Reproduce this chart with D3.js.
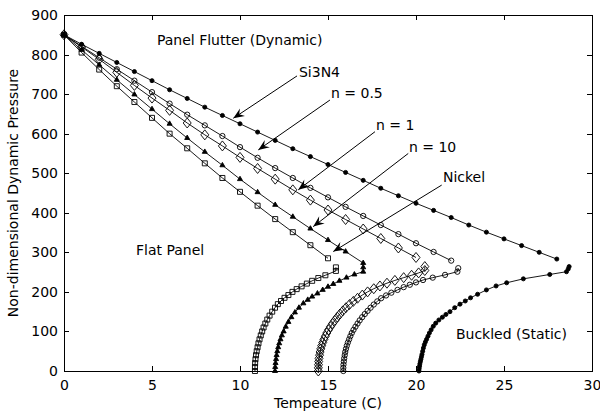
<!DOCTYPE html>
<html>
<head>
<meta charset="utf-8">
<script src="https://cdn.jsdelivr.net/npm/d3@7"></script>
<style>
  body { margin: 0; background: #fff; }
  svg text { font-family: "DejaVu Sans", sans-serif; font-size: 14px; fill: #000; }
</style>
</head>
<body>
<div id="container"></div>
<script>
// values (temperature, pressure)
// flutter branches, one point per degree
const si3n4FlutterT = [0,1,2,3,4,5,6,7,8,9,10,11,12,13,14,15,16,17,18,19,20,21,22,23,24,25,26,27,28];
const si3n4FlutterP = [850,826,803,780,757,734,711,689,667,646,625,604,583,562,542,522,502,482,462,443,424,406,388,369,351,334,317,300,283];
const n05FlutterT = [0,1,2,3,4,5,6,7,8,9,10,11,12,13,14,15,16,17,18,19,20,21,22];
const n05FlutterP = [850,821,792,763,734,705,676,648,621,594,566,539,513,488,463,439,415,392,369,346,323,301,279];
const n1FlutterT = [0,1,2,3,4,5,6,7,8,9,10,11,12,13,14,15,16,17,18,19,20];
const n1FlutterP = [850,819,788,755,722,690,659,627,597,569,540,512,485,458,432,407,383,359,335,311,287];
const n10FlutterT = [0,1,2,3,4,5,6,7,8,9,10,11,12,13,14,15,16,17];
const n10FlutterP = [850,812,774,736,699,662,625,589,554,520,485,452,420,390,360,331,302,273];
const nickelFlutterT = [0,1,2,3,4,5,6,7,8,9,10,11,12,13,14,15];
const nickelFlutterP = [850,805,762,720,680,640,600,563,525,488,453,418,384,351,318,285];

// buckled (static) branches, bottom to top
const si3n4BuckT = [20.17,20.18,20.2,20.22,20.25,20.28,20.31,20.34,20.38,20.42,20.47,20.53,20.6,20.68,20.76,20.86,20.98,21.12,21.3,21.5,21.7,21.93,22.2,22.5,22.8,23.1,23.5,24.0,24.55,25.15,26.1,27.6,28.55,28.65,28.7];
const si3n4BuckP = [0,6,12,18,24,30,36,42,50,58,66,73,80,88,96,104,113,121,129,136,143,150,160,169,177,185,194,205,215,223,233,244,251,258,264];
const n05BuckT = [15.87,15.87,15.88,15.9,15.92,15.95,15.98,16.02,16.07,16.13,16.2,16.27,16.35,16.45,16.56,16.68,16.8,16.94,17.09,17.25,17.42,17.6,17.8,18.02,18.3,18.6,18.95,19.3,19.65,20.0,20.4,20.95,21.65,22.35,22.4];
const n05BuckP = [0,8,16,24,32,40,48,56,64,72,80,88,96,104,112,120,128,136,144,152,160,168,176,184,191,198,205,212,218,224,230,236,243,251,260];
const n1BuckT = [14.45,14.45,14.46,14.47,14.49,14.52,14.55,14.59,14.64,14.7,14.77,14.85,14.93,15.03,15.14,15.26,15.39,15.53,15.68,15.84,16.02,16.22,16.44,16.68,16.95,17.25,17.6,17.95,18.35,18.8,19.3,19.75,20.15,20.5,20.5];
const n1BuckP = [0,8,16,24,32,40,48,56,64,72,80,88,96,104,112,120,128,136,144,152,160,168,176,184,192,200,208,215,222,229,236,242,248,254,264];
const n10BuckT = [11.99,12.0,12.02,12.05,12.08,12.12,12.17,12.23,12.3,12.38,12.48,12.6,12.75,12.92,13.12,13.35,13.6,13.85,14.1,14.4,14.7,15.0,15.3,15.65,16.05,16.5,17.0,17.0];
const n10BuckP = [0,10,20,30,40,50,60,70,80,90,100,112,124,136,148,160,171,180,188,196,205,213,220,228,236,244,251,262];
const nickelBuckT = [10.85,10.85,10.86,10.88,10.91,10.95,11.0,11.05,11.11,11.18,11.26,11.34,11.44,11.55,11.68,11.83,11.99,12.15,12.33,12.53,12.75,12.98,13.22,13.5,13.8,14.1,14.45,14.85,15.45,15.45];
const nickelBuckP = [0,10,20,30,40,50,60,70,80,90,100,110,120,130,140,150,160,169,177,185,192,200,207,214,221,228,235,242,253,262];

// ticks
const xTicks = [0,5,10,15,20,25,30];
const yTicks = [0,100,200,300,400,500,600,700,800,900];

// arrow labels (text position, line start, arrow tip) in data units
const noteLabels = ["Si3N4","n = 0.5","n = 1","n = 10","Nickel"];
const noteTextAt = [[13.35,743],[15.17,690],[17.73,609],[19.6,554],[21.53,478]];
const noteFrom = [[13.24,746],[15.11,685],[17.67,605],[19.56,550],[21.46,470]];
const noteTo = [[9.62,639],[11.04,559],[13.31,458],[14.16,365],[15.3,302]];

// region labels
const regionLabels = ["Panel Flutter (Dynamic)","Flat Panel","Buckled (Static)"];
const regionAt = [[5.28,824],[4.09,293],[22.27,82]];

const width = 600, height = 414;
const margin = {top: 15, right: 8, bottom: 43, left: 64};

const xScale = d3.scaleLinear().domain([0,30]).range([margin.left, width - margin.right]);
const yScale = d3.scaleLinear().domain([0,900]).range([height - margin.bottom, margin.top]);

const svg = d3.select("#container")
  .append("svg")
  .attr("width", width)
  .attr("height", height)
  .style("background", "#fff");

// axes: MATLAB style, ticks pointing in on all four sides
const axisStyle = g => {
  g.select(".domain").remove();
  g.selectAll(".tick line").attr("stroke", "#000").attr("shape-rendering", "crispEdges");
};
svg.append("g")
  .attr("transform", `translate(0,${height - margin.bottom})`)
  .call(d3.axisBottom(xScale).tickValues(xTicks).tickSizeInner(-5).tickSizeOuter(0).tickPadding(9))
  .call(axisStyle);
svg.append("g")
  .attr("transform", `translate(${margin.left},0)`)
  .call(d3.axisLeft(yScale).tickValues(yTicks).tickSizeInner(-5).tickSizeOuter(0).tickPadding(6))
  .call(axisStyle);
svg.append("g")
  .attr("transform", `translate(0,${margin.top})`)
  .call(d3.axisTop(xScale).tickValues(xTicks).tickSizeInner(-5).tickSizeOuter(0).tickFormat(() => ""))
  .call(axisStyle);
svg.append("g")
  .attr("transform", `translate(${width - margin.right},0)`)
  .call(d3.axisRight(yScale).tickValues(yTicks).tickSizeInner(-5).tickSizeOuter(0).tickFormat(() => ""))
  .call(axisStyle);

svg.append("rect")
  .attr("x", margin.left).attr("y", margin.top)
  .attr("width", width - margin.left - margin.right)
  .attr("height", height - margin.top - margin.bottom)
  .attr("fill", "none").attr("stroke", "#000")
  .attr("shape-rendering", "crispEdges");

// axis titles
svg.append("text")
  .attr("x", (margin.left + width - margin.right) / 2)
  .attr("y", 408)
  .attr("text-anchor", "middle")
  .text("Tempeature (C)");
svg.append("text")
  .attr("transform", `translate(18,${(margin.top + height - margin.bottom) / 2}) rotate(-90)`)
  .attr("text-anchor", "middle")
  .text("Non-dimensional Dynamic Pressure");

// markers
const markers = {
  dot: {d: d3.symbol(d3.symbolCircle, 13)(), fill: "#000"},
  circle: {d: d3.symbol(d3.symbolCircle, 22)(), fill: "none"},
  diamond: {d: "M0,-5L4,0L0,5L-4,0Z", fill: "none"},
  triangle: {d: d3.symbol(d3.symbolTriangle, 11)(), fill: "#000"},
  square: {d: d3.symbol(d3.symbolSquare, 25)(), fill: "none"}
};

const series = [
  {ft: si3n4FlutterT, fp: si3n4FlutterP, bt: si3n4BuckT, bp: si3n4BuckP, marker: "dot"},
  {ft: n05FlutterT, fp: n05FlutterP, bt: n05BuckT, bp: n05BuckP, marker: "circle"},
  {ft: n1FlutterT, fp: n1FlutterP, bt: n1BuckT, bp: n1BuckP, marker: "diamond"},
  {ft: n10FlutterT, fp: n10FlutterP, bt: n10BuckT, bp: n10BuckP, marker: "triangle"},
  {ft: nickelFlutterT, fp: nickelFlutterP, bt: nickelBuckT, bp: nickelBuckP, marker: "square"}
];

const line = d3.line().x(d => xScale(d[0])).y(d => yScale(d[1]));

series.forEach(s => {
  const branches = [d3.zip(s.ft, s.fp), d3.zip(s.bt, s.bp)];
  const g = svg.append("g");
  branches.forEach(pts => {
    g.append("path")
      .attr("d", line(pts))
      .attr("fill", "none")
      .attr("stroke", "#000")
      .attr("stroke-width", 0.9);
    g.selectAll(null)
      .data(pts)
      .join("path")
      .attr("d", markers[s.marker].d)
      .attr("transform", d => `translate(${xScale(d[0])},${yScale(d[1])})`)
      .attr("fill", markers[s.marker].fill)
      .attr("stroke", "#000")
      .attr("stroke-width", 0.9);
  });
});

// annotation arrows
noteLabels.forEach((label, i) => {
  const x1 = xScale(noteFrom[i][0]), y1 = yScale(noteFrom[i][1]);
  const x2 = xScale(noteTo[i][0]), y2 = yScale(noteTo[i][1]);
  const ang = Math.atan2(y2 - y1, x2 - x1) * 180 / Math.PI;
  svg.append("line")
    .attr("x1", x1).attr("y1", y1).attr("x2", x2).attr("y2", y2)
    .attr("stroke", "#000").attr("stroke-width", 1);
  svg.append("path")
    .attr("d", "M0,0L-11,-4.5L-7,0L-11,4.5Z")
    .attr("transform", `translate(${x2},${y2}) rotate(${ang})`)
    .attr("fill", "#000");
  svg.append("text")
    .attr("x", xScale(noteTextAt[i][0]))
    .attr("y", yScale(noteTextAt[i][1]))
    .text(label);
});

regionLabels.forEach((label, i) => {
  svg.append("text")
    .attr("x", xScale(regionAt[i][0]))
    .attr("y", yScale(regionAt[i][1]))
    .text(label);
});
</script>
</body>
</html>
